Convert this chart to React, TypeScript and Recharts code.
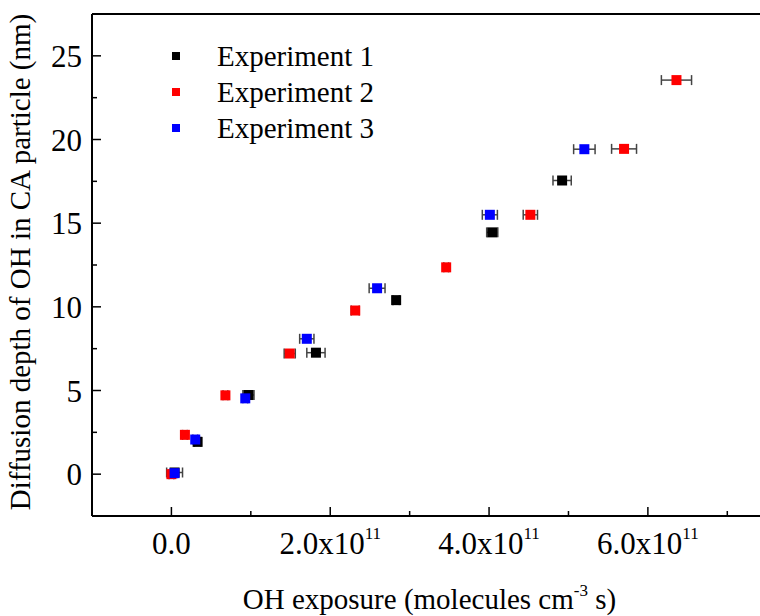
import { ScatterChart, Scatter, XAxis, YAxis, ErrorBar, ReferenceLine, Legend, Label } from 'recharts';

const FONT = '"Liberation Serif", "Times New Roman", serif';

// OH exposure (molecules cm^-3 s), depth (nm), x error
const exp1X = [0.04e11, 0.33e11, 0.97e11, 1.82e11, 2.83e11, 4.04e11, 4.92e11];
const exp1Y = [0.1, 1.93, 4.73, 7.26, 10.4, 14.45, 17.55];
const exp1Err = [0.1e11, 0.04e11, 0.07e11, 0.115e11, 0.04e11, 0.07e11, 0.115e11];

const exp2X = [0.0, 0.17e11, 0.68e11, 1.49e11, 2.315e11, 3.46e11, 4.52e11, 5.7e11, 6.36e11];
const exp2Y = [0.0, 2.35, 4.71, 7.21, 9.78, 12.36, 15.5, 19.44, 23.55];
const exp2Err = [0.03e11, 0.03e11, 0.03e11, 0.07e11, 0.05e11, 0.03e11, 0.09e11, 0.157e11, 0.19e11];

const exp3X = [0.04e11, 0.3e11, 0.93e11, 1.705e11, 2.59e11, 4.01e11, 5.2e11];
const exp3Y = [0.06, 2.07, 4.53, 8.09, 11.11, 15.5, 19.42];
const exp3Err = [0.03e11, 0.03e11, 0.03e11, 0.09e11, 0.1e11, 0.095e11, 0.135e11];

const seriesNames = ['Experiment 1', 'Experiment 2', 'Experiment 3'];
const seriesColors = ['#000000', '#ff0000', '#0000ff'];

const xMajorTicks = [0, 2e11, 4e11, 6e11];
const xMinorTicks = [1e11, 3e11, 5e11, 7e11];
const xTickMantissa = ['0.0', '2.0x10', '4.0x10', '6.0x10'];
const xTickExponent = ['', '11', '11', '11'];
const yMajorTicks = [0, 5, 10, 15, 20, 25];
const yMinorTicks = [2.5, 7.5, 12.5, 17.5, 22.5];

const toPoints = (xs: number[], ys: number[], errs: number[]) =>
  xs.map((x, i) => ({ x, y: ys[i], err: errs[i] }));

const seriesData = [
  toPoints(exp1X, exp1Y, exp1Err),
  toPoints(exp2X, exp2Y, exp2Err),
  toPoints(exp3X, exp3Y, exp3Err),
];

const squareShape = (color: string) => (props: any) => (
  <rect x={props.cx - 5} y={props.cy - 5} width={10} height={10} fill={color} />
);

const XTick = (props: any) => {
  const { x, y, payload } = props;
  const i = xMajorTicks.indexOf(payload.value);
  const major = i >= 0;
  return (
    <g>
      <line x1={x} x2={x} y1={y} y2={y - (major ? 9 : 5)} stroke="#000" strokeWidth={1.5} />
      {major && (
        <text x={x} y={y + 38} textAnchor="middle" fontFamily={FONT} fontSize={31} fill="#000">
          {xTickMantissa[i]}
          {xTickExponent[i] && (
            <tspan dy={-15} fontSize={17}>{xTickExponent[i]}</tspan>
          )}
        </text>
      )}
    </g>
  );
};

const YTick = (props: any) => {
  const { x, y, payload } = props;
  const major = yMajorTicks.includes(payload.value);
  return (
    <g>
      <line x1={x} x2={x + (major ? 9 : 5)} y1={y} y2={y} stroke="#000" strokeWidth={1.5} />
      {major && (
        <text x={x - 10} y={y + 11} textAnchor="end" fontFamily={FONT} fontSize={31} fill="#000">
          {payload.value}
        </text>
      )}
    </g>
  );
};

const XTitle = (props: any) => {
  const { x, y, width } = props.viewBox;
  return (
    <text x={x + width / 2} y={y + 93} textAnchor="middle" fontFamily={FONT} fontSize={29} fill="#000">
      OH exposure (molecules cm
      <tspan dy={-13} fontSize={17}>-3</tspan>
      <tspan dy={13}> s)</tspan>
    </text>
  );
};

const YTitle = (props: any) => {
  const { y, height } = props.viewBox;
  const cy = y + height / 2 - 3;
  return (
    <text
      x={20}
      y={cy}
      transform={`rotate(-90, 20, ${cy})`}
      textAnchor="middle"
      dominantBaseline="central"
      fontFamily={FONT}
      fontSize={29}
      fill="#000"
    >
      Diffusion depth of OH in CA particle (nm)
    </text>
  );
};

const renderLegend = () => (
  <div style={{ fontFamily: FONT, fontSize: 29, color: '#000' }}>
    {seriesNames.map((name, i) => (
      <div key={name} style={{ display: 'flex', alignItems: 'center', height: 36, lineHeight: '36px' }}>
        <span style={{ display: 'inline-block', width: 8, height: 8, background: seriesColors[i], marginLeft: 4, marginRight: 37 }} />
        <span>{name}</span>
      </div>
    ))}
  </div>
);

export default function App() {
  return (
    <div style={{ position: 'absolute', left: 0, top: 0, width: 760, height: 616, overflow: 'hidden', background: '#fff' }}>
      <ScatterChart width={800} height={616} margin={{ top: 14, right: 33, bottom: 0, left: 0 }}>
        <XAxis
          type="number"
          dataKey="x"
          domain={[-1e11, 7.5e11]}
          allowDataOverflow
          ticks={[...xMajorTicks, ...xMinorTicks].sort((a, b) => a - b)}
          interval={0}
          tick={<XTick />}
          tickLine={false}
          tickSize={0}
          tickMargin={0}
          height={100}
          axisLine={{ stroke: '#000', strokeWidth: 2 }}
        >
          <Label content={<XTitle />} />
        </XAxis>
        <YAxis
          type="number"
          dataKey="y"
          domain={[-2.5, 27.5]}
          allowDataOverflow
          ticks={[...yMajorTicks, ...yMinorTicks].sort((a, b) => a - b)}
          interval={0}
          tick={<YTick />}
          tickLine={false}
          tickSize={0}
          tickMargin={0}
          width={92}
          axisLine={{ stroke: '#000', strokeWidth: 2 }}
        >
          <Label content={<YTitle />} />
        </YAxis>
        <ReferenceLine y={27.5} stroke="#000" strokeWidth={2} />
        <Legend
          layout="vertical"
          align="center"
          verticalAlign="middle"
          wrapperStyle={{ left: 168, top: 38, width: 260 }}
          content={renderLegend}
        />
        {seriesData.map((data, i) => (
          <Scatter
            key={seriesNames[i]}
            name={seriesNames[i]}
            data={data}
            fill={seriesColors[i]}
            shape={squareShape(seriesColors[i])}
            isAnimationActive={false}
          >
            <ErrorBar dataKey="err" direction="x" width={5} stroke="#444" strokeWidth={1.5} />
          </Scatter>
        ))}
      </ScatterChart>
    </div>
  );
}
